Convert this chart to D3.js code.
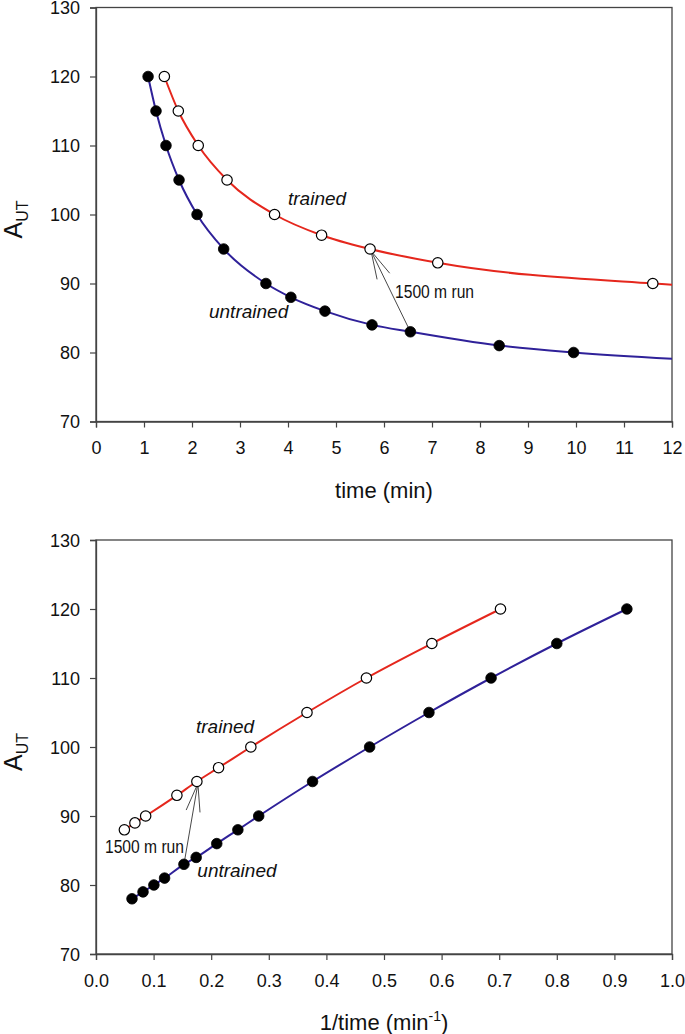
<!DOCTYPE html>
<html>
<head>
<meta charset="utf-8">
<script src="https://cdn.jsdelivr.net/npm/d3@7"></script>
<style>
  html, body { margin: 0; padding: 0; background: #fff; }
  svg { display: block; }
  text { font-family: "Liberation Sans", Arial, sans-serif; fill: #111; }
</style>
</head>
<body>
<svg id="chart" width="685" height="1034"></svg>
<script>
// ---- data ----
const untrainedTime = [1.085, 1.25, 1.458, 1.73, 2.105, 2.66, 3.54, 4.06, 4.77, 5.75, 6.55, 8.40, 9.95, 12.25, 16.0];
const untrainedA    = [120, 115, 110, 105, 100, 95, 90, 88, 86, 84, 83, 81, 80, 79, 78];
const trainedTime   = [1.424, 1.715, 2.13, 2.73, 3.72, 4.70, 5.71, 7.12, 11.6, 14.8, 20.3];
const trainedA      = [120, 115, 110, 105, 100, 97, 95, 93, 90, 89, 88];
const runA_trained = 95;     // 1500 m run, trained
const runA_untrained = 83;   // 1500 m run, untrained
const yTicks = [70, 80, 90, 100, 110, 120, 130];
const xTicksTime = [0,1,2,3,4,5,6,7,8,9,10,11,12];
const xTicksInv = [0,0.1,0.2,0.3,0.4,0.5,0.6,0.7,0.8,0.9,1.0];

const svg = d3.select("#chart");
const RED = "#e5271d", BLUE = "#2f2199";

const untrained = untrainedTime.map((t,i)=>({t, inv: 1/t, a: untrainedA[i]}));
const trained = trainedTime.map((t,i)=>({t, inv: 1/t, a: trainedA[i]}));

function panel(opts) {
  const {id, x, y, xKey, xTicks, xFmt, xTitle, notes} = opts;
  const g = svg.append("g");
  const [x0, x1] = x.range();
  const [y0, y1] = y.range();

  g.append("clipPath").attr("id", id).append("rect")
    .attr("x", x0).attr("y", y1).attr("width", x1 - x0).attr("height", y0 - y1);

  // frame
  g.append("rect").attr("x", x0).attr("y", y1).attr("width", x1 - x0).attr("height", y0 - y1)
    .attr("fill", "none").attr("stroke", "#444").attr("stroke-width", 1.3);

  // axes
  const ax = g.append("g").attr("transform", `translate(0,${y0})`)
    .call(d3.axisBottom(x).tickValues(xTicks).tickFormat(xFmt).tickSize(6).tickPadding(14));
  const ay = g.append("g").attr("transform", `translate(${x0},0)`)
    .call(d3.axisLeft(y).tickValues(yTicks).tickSize(6).tickPadding(10));
  [ax, ay].forEach(a => {
    a.select(".domain").attr("stroke", "#444").attr("stroke-width", 1.3);
    a.selectAll(".tick line").attr("stroke", "#444").attr("stroke-width", 1.2);
    a.selectAll(".tick text").attr("font-size", 18).attr("font-family", "Liberation Sans, Arial, sans-serif").attr("fill", "#111");
  });
  ay.selectAll(".tick text").attr("dy", "0.36em");

  // titles
  const xt = g.append("text").attr("x", (x0 + x1) / 2).attr("y", y0 + 76)
    .attr("text-anchor", "middle").attr("font-size", 22);
  xTitle(xt);
  const yt = g.append("text")
    .attr("transform", `translate(22,${(y0 + y1) / 2 + 5}) rotate(-90)`)
    .attr("text-anchor", "middle").attr("font-size", 25);
  yt.append("tspan").text("A");
  yt.append("tspan").attr("font-size", 16).attr("dy", 6).text("UT");

  // lines
  const line = d3.line().x(d => x(d[xKey])).y(d => y(d.a)).curve(d3.curveMonotoneX);
  const lg = g.append("g").attr("clip-path", `url(#${id})`);
  const sortU = untrained.slice().sort((a,b)=>a[xKey]-b[xKey]);
  const sortT = trained.slice().sort((a,b)=>a[xKey]-b[xKey]);
  lg.append("path").attr("d", line(sortT)).attr("fill", "none").attr("stroke", RED).attr("stroke-width", 2);
  lg.append("path").attr("d", line(sortU)).attr("fill", "none").attr("stroke", BLUE).attr("stroke-width", 2);

  // arrow between the 1500 m run points
  const pT = trained.find(d => d.a === runA_trained);
  const pU = untrained.find(d => d.a === runA_untrained);
  const tx = x(pT[xKey]) + 1, ty = y(pT.a) + 2;
  const ux = x(pU[xKey]), uy = y(pU.a);
  const ang = Math.atan2(uy - ty, ux - tx);
  const L = 29, h = 14 * Math.PI / 180;
  const ag = g.append("g").attr("stroke", "#333").attr("stroke-width", 0.9).attr("fill", "none");
  ag.append("line").attr("x1", tx).attr("y1", ty).attr("x2", ux).attr("y2", uy);
  ag.append("line").attr("x1", tx).attr("y1", ty)
    .attr("x2", tx + L * Math.cos(ang + h)).attr("y2", ty + L * Math.sin(ang + h));
  ag.append("line").attr("x1", tx).attr("y1", ty)
    .attr("x2", tx + L * Math.cos(ang - h)).attr("y2", ty + L * Math.sin(ang - h));

  // markers (only those inside the axis range)
  const inside = d => d[xKey] >= x.domain()[0] && d[xKey] <= x.domain()[1];
  g.append("g").selectAll("circle").data(untrained.filter(inside)).join("circle")
    .attr("cx", d => x(d[xKey])).attr("cy", d => y(d.a)).attr("r", 5.3)
    .attr("fill", "#000").attr("stroke", "#000").attr("stroke-width", 0.8);
  g.append("g").selectAll("circle").data(trained.filter(inside)).join("circle")
    .attr("cx", d => x(d[xKey])).attr("cy", d => y(d.a)).attr("r", 5.2)
    .attr("fill", "#fff").attr("stroke", "#000").attr("stroke-width", 1.2);

  // notes
  notes.forEach(n => {
    const t = g.append("text").attr("x", x(n.x)).attr("y", y(n.y))
      .attr("font-size", n.size).attr("font-style", n.italic ? "italic" : "normal")
      .text(n.text);
    if (n.narrow) t.attr("textLength", 79).attr("lengthAdjust", "spacingAndGlyphs");
  });
}

// top panel: A_UT vs time
panel({
  id: "clipTop",
  x: d3.scaleLinear().domain([0, 12]).range([96, 672]),
  y: d3.scaleLinear().domain([70, 130]).range([421.5, 7.5]),
  xKey: "t",
  xTicks: xTicksTime,
  xFmt: d3.format("d"),
  xTitle: t => t.text("time (min)"),
  notes: [
    {text: "trained", x: 4.0, y: 101.35, size: 19, italic: true},
    {text: "untrained", x: 2.354, y: 84.93, size: 19, italic: true},
    {text: "1500 m run", x: 6.23, y: 87.83, size: 19, narrow: true}
  ]
});

// bottom panel: A_UT vs 1/time
panel({
  id: "clipBot",
  x: d3.scaleLinear().domain([0, 1]).range([96, 672]),
  y: d3.scaleLinear().domain([70, 130]).range([954, 540]),
  xKey: "inv",
  xTicks: xTicksInv,
  xFmt: d3.format(".1f"),
  xTitle: t => {
    t.append("tspan").text("1/time (min");
    t.append("tspan").attr("font-size", 14).attr("dy", -9).text("-1");
    t.append("tspan").attr("dy", 9).text(")");
  },
  notes: [
    {text: "trained", x: 0.1736, y: 101.99, size: 19, italic: true},
    {text: "untrained", x: 0.1759, y: 81.2, size: 19, italic: true},
    {text: "1500 m run", x: 0.0156, y: 84.6, size: 19, narrow: true}
  ]
});
</script>
</body>
</html>
